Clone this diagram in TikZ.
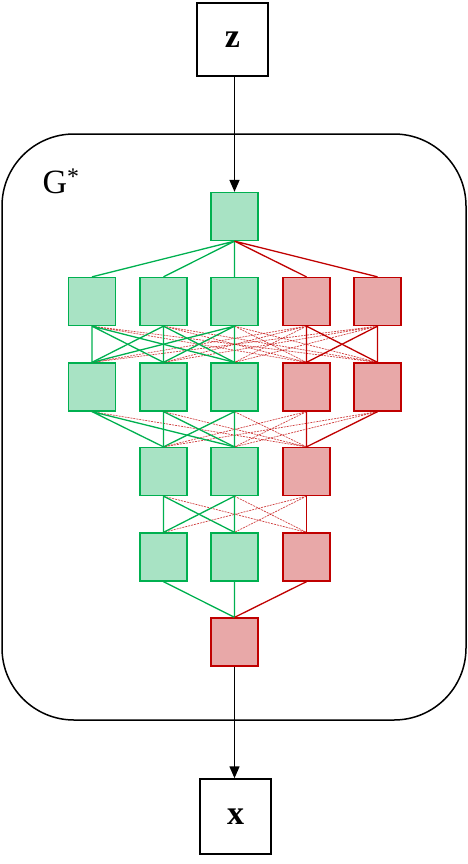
\documentclass[tikz,border=0pt]{standalone}
\usepackage{fontspec}
\setmainfont{Liberation Serif}
\usetikzlibrary{arrows.meta}

\definecolor{gfill}{HTML}{A8E3C4}
\definecolor{gline}{HTML}{00B050}
\definecolor{rfill}{HTML}{E8A8A8}
\definecolor{rline}{HTML}{C00000}

\tikzset{
  gnode/.style={draw=gline,fill=gfill,line width=1.3pt,minimum width=47pt,minimum height=48pt,inner sep=0pt},
  rnode/.style={draw=rline,fill=rfill,line width=1.3pt,minimum width=47pt,minimum height=48pt,inner sep=0pt},
  iobox/.style={draw,line width=1.5pt,minimum width=71pt,minimum height=73pt,inner sep=0pt,font=\fontsize{34}{34}\selectfont\bfseries},
  gedge/.style={gline,line width=1.3pt},
  redge/.style={rline,line width=1.3pt},
  rdash/.style={rline,line width=0.7pt,dash pattern=on 2pt off 1pt,opacity=0.75},
  arr/.style={line width=1.5pt,-{Triangle[length=12pt,width=10pt]}}
}

\begin{document}
\begin{tikzpicture}[x=1pt,y=-1pt]
\useasboundingbox (0,0) rectangle (468,864);

%\draw[step=50,gray,very thin] (0,0) grid (468,864); %background grid
\draw[line width=1.5pt,rounded corners=72pt] (2,134) rectangle (466,720);
\node (gstar) at (61,181) {\fontsize{34}{34}\selectfont G\textsuperscript{*}};

%--------------------------------------------------- in / out
\node[iobox] (z) at (232.5,39.5) {z};
\node[iobox,minimum height=75pt] (x) at (235.5,816.5) {x};

%--------------------------------------------------- layer 1
\node[gnode] (l1) at (234.5,216.5) {};

%--------------------------------------------------- layer 2
\node[gnode] (l2a) at (92,301.5)    {};
\node[gnode] (l2b) at (163.5,301.5) {};
\node[gnode] (l2c) at (234.5,301.5) {};
\node[rnode] (l2d) at (306.5,301.5) {};
\node[rnode] (l2e) at (377.5,301.5) {};

%--------------------------------------------------- layer 3
\node[gnode] (l3a) at (92,387)    {};
\node[gnode] (l3b) at (163.5,387) {};
\node[gnode] (l3c) at (234.5,387) {};
\node[rnode] (l3d) at (306.5,387) {};
\node[rnode] (l3e) at (377.5,387) {};

%--------------------------------------------------- layer 4
\node[gnode] (l4b) at (163.5,471.5) {};
\node[gnode] (l4c) at (234.5,471.5) {};
\node[rnode] (l4d) at (306.5,471.5) {};

%--------------------------------------------------- layer 5
\node[gnode] (l5b) at (163.5,557) {};
\node[gnode] (l5c) at (234.5,557) {};
\node[rnode] (l5d) at (306.5,557) {};

%--------------------------------------------------- output
\node[rnode] (out) at (234.5,642) {};

%--------------------------------------------------- arrows
\draw[arr] (l1.north |- z.south) -- (l1.north);
\draw[arr] (out.south) -- (out.south |- x.north);

%--------------------------------------------------- 1 -> 2
\draw[gedge] (l1.south) -- (l2a.north) (l1.south) -- (l2b.north) (l1.south) -- (l2c.north);
\draw[redge] (l1.south) -- (l2d.north) (l1.south) -- (l2e.north);

%--------------------------------------------------- 2 -> 3
\draw[rdash] (l2a.south) -- (l3d.north) (l2a.south) -- (l3e.north);
\draw[rdash] (l2b.south) -- (l3d.north) (l2b.south) -- (l3e.north);
\draw[rdash] (l2c.south) -- (l3d.north) (l2c.south) -- (l3e.north);
\draw[rdash] (l2d.south) -- (l3a.north) (l2d.south) -- (l3b.north) (l2d.south) -- (l3c.north);
\draw[rdash] (l2e.south) -- (l3a.north) (l2e.south) -- (l3b.north) (l2e.south) -- (l3c.north);
\draw[gedge] (l2a.south) -- (l3a.north) (l2a.south) -- (l3b.north) (l2a.south) -- (l3c.north);
\draw[gedge] (l2b.south) -- (l3a.north) (l2b.south) -- (l3b.north) (l2b.south) -- (l3c.north);
\draw[gedge] (l2c.south) -- (l3a.north) (l2c.south) -- (l3b.north) (l2c.south) -- (l3c.north);
\draw[redge] (l2d.south) -- (l3d.north) (l2d.south) -- (l3e.north);
\draw[redge] (l2e.south) -- (l3d.north) (l2e.south) -- (l3e.north);

%--------------------------------------------------- 3 -> 4
\draw[rdash] (l3a.south) -- (l4d.north) (l3b.south) -- (l4d.north) (l3c.south) -- (l4d.north);
\draw[rdash] (l3d.south) -- (l4b.north) (l3d.south) -- (l4c.north);
\draw[rdash] (l3e.south) -- (l4b.north) (l3e.south) -- (l4c.north);
\draw[gedge] (l3a.south) -- (l4b.north) (l3a.south) -- (l4c.north);
\draw[gedge] (l3b.south) -- (l4b.north) (l3b.south) -- (l4c.north);
\draw[gedge] (l3c.south) -- (l4b.north) (l3c.south) -- (l4c.north);
\draw[redge] (l3d.south) -- (l4d.north) (l3e.south) -- (l4d.north);

%--------------------------------------------------- 4 -> 5
\draw[rdash] (l4b.south) -- (l5d.north) (l4c.south) -- (l5d.north);
\draw[rdash] (l4d.south) -- (l5b.north) (l4d.south) -- (l5c.north);
\draw[gedge] (l4b.south) -- (l5b.north) (l4b.south) -- (l5c.north);
\draw[gedge] (l4c.south) -- (l5b.north) (l4c.south) -- (l5c.north);
\draw[redge] (l4d.south) -- (l5d.north);

%--------------------------------------------------- 5 -> out
\draw[gedge] (l5b.south) -- (out.north) (l5c.south) -- (out.north);
\draw[redge] (l5d.south) -- (out.north);
\end{tikzpicture}
\end{document}
